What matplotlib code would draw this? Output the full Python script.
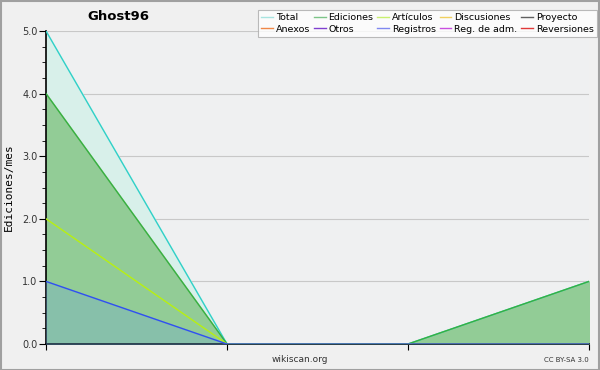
#!/usr/bin/env python3

"""."""
import matplotlib
matplotlib.use('Agg')
from matplotlib import pyplot as plt
from matplotlib.lines import Line2D
from matplotlib.patches import Rectangle
from matplotlib.ticker import MultipleLocator

# data
months = [0, 1, 2, 3]
total = [5, 0, 0, 1]
ediciones = [4, 0, 0, 1]
articulos = [2, 0, 0, 0]
registros = [1, 0, 0, 0]

legend_names = ['Total', 'Ediciones', 'Artículos', 'Discusiones', 'Proyecto',
                'Anexos', 'Otros', 'Registros', 'Reg. de adm.', 'Reversiones']
legend_colors = ['#a8e4e0', '#7cc488', '#c8f070', '#f0d060', '#606060',
                 '#f08848', '#8040d0', '#8088f0', '#c850e0', '#e03838']

BG = '#eff0f1'

fig = plt.figure(figsize=(6, 3.7), dpi=100, facecolor='#f0f0f0')
ax = fig.add_axes([46/600, 26/370, 543/600, 313/370])
ax.set_facecolor(BG)

# areas
ax.fill_between(months, total, color='#d8f0ea', zorder=1)
ax.plot(months, total, color='#30d0c8', lw=1, zorder=4)
ax.fill_between(months, ediciones, color='#92cc96', zorder=2)
ax.plot(months, ediciones, color='#38b040', lw=1, zorder=4)
ax.fill_between(months, registros, color='#6a9ee8', alpha=0.25, zorder=3)
ax.plot(months, articulos, color='#b8f010', lw=1, zorder=5)
ax.plot(months, registros, color='#3050f0', lw=1, zorder=5)

ax.set_xlim(0, 3)
ax.set_ylim(0, 5)
ax.set_xticks(months)
ax.set_xticklabels([])
ax.yaxis.set_major_locator(MultipleLocator(1))
ax.yaxis.set_minor_locator(MultipleLocator(0.25))
ax.yaxis.set_major_formatter(plt.FuncFormatter(lambda v, p: '{:.1f}'.format(v)))
ax.tick_params(axis='y', which='major', length=5, labelsize=7, pad=1,
               labelcolor='#333333')
ax.tick_params(axis='y', which='minor', length=3)
ax.tick_params(axis='x', which='major', length=4, direction='out')
ax.grid(axis='y', color='#c8c8c8', lw=0.8, zorder=0)
ax.set_axisbelow(True)
for side in ['top', 'right']:
    ax.spines[side].set_visible(False)
ax.spines['left'].set_linewidth(1.2)
ax.spines['bottom'].set_linewidth(1.2)

ax.set_ylabel('Ediciones/mes', family='DejaVu Sans Mono', fontsize=8,
              labelpad=6)
fig.text(118/600, 1 - 17/370, 'Ghost96', ha='center', va='center',
         fontsize=9.5, fontweight='bold')
fig.text(0.5, 1 - 360/370, 'wikiscan.org', ha='center', va='center',
         fontsize=6.5, color='#333333')
fig.text(589/600, 1 - 360/370, 'CC BY-SA 3.0', ha='right', va='center',
         fontsize=5, color='#333333')

# legend is filled column by column, so reorder to get row order
ncol = 5
order = [r * ncol + c for c in range(ncol) for r in range(2)]
handles = [Line2D([], [], color=legend_colors[i], lw=1) for i in order]
names = [legend_names[i] for i in order]
leg = fig.legend(handles, names, ncol=ncol, loc='upper right',
                 bbox_to_anchor=(597/600, 1 - 10/370), fontsize=6.8,
                 frameon=True, fancybox=False, handlelength=1.25,
                 handletextpad=0.3, columnspacing=0.4, labelspacing=0.25,
                 borderpad=0.35, borderaxespad=0)
leg.get_frame().set_edgecolor('#aaaaaa')
leg.get_frame().set_linewidth(0.8)

fig.patches.append(Rectangle((0.001, 0.001), 0.998, 0.997, fill=False,
                             edgecolor='#a0a0a0', lw=1.5,
                             transform=fig.transFigure))

fig.savefig('out.png', dpi=100, facecolor=fig.get_facecolor())
